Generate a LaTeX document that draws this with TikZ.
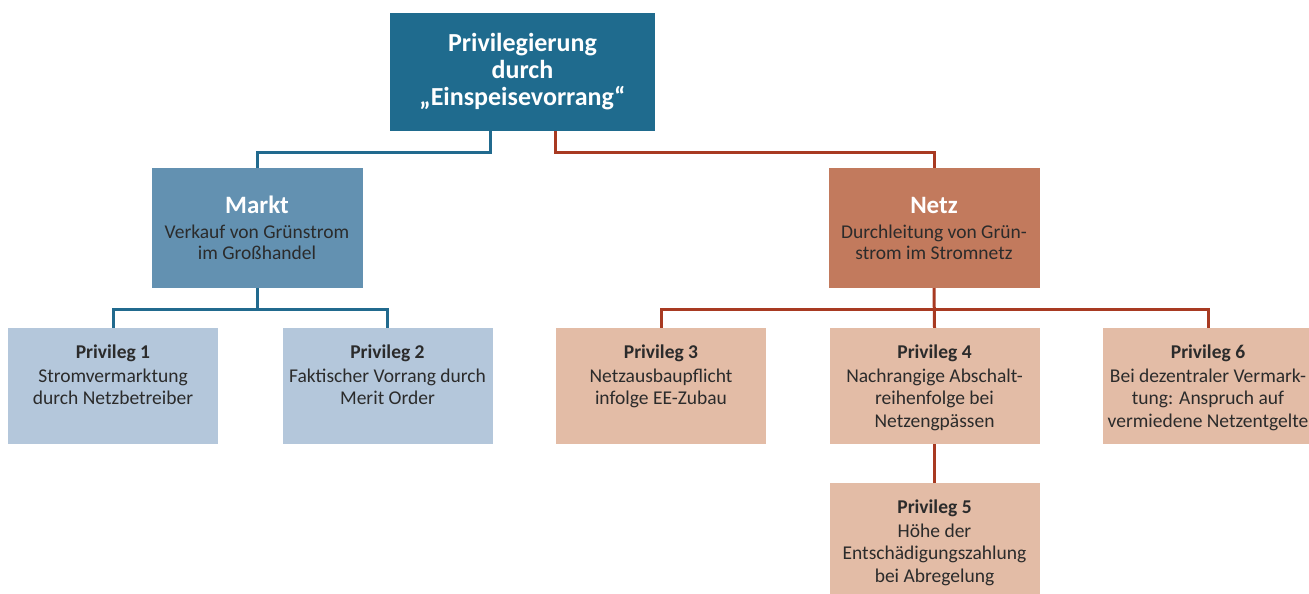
\documentclass[tikz,border=0pt]{standalone}
\usepackage{fontspec}
\setmainfont{Carlito}
\definecolor{topc}{HTML}{1F6B8E}
\definecolor{marktc}{HTML}{6391B1}
\definecolor{netzc}{HTML}{C27A5D}
\definecolor{lblue}{HTML}{B4C7DB}
\definecolor{lsalmon}{HTML}{E3BCA6}
\definecolor{bluel}{HTML}{216A8E}
\definecolor{redl}{HTML}{A83A22}
\definecolor{txt}{HTML}{2B2B2B}
\newcommand{\ptext}[2]{\parbox[c][116pt][t]{205pt}{\centering\vspace*{17pt}\textbf{#1}\\[1pt]#2\par}}
\tikzset{
  topbox/.style={rectangle, fill=topc, text=white, minimum width=265pt, minimum height=118pt, inner sep=0pt, align=center, font=\fontsize{26}{27}\selectfont\bfseries},
  midbox/.style={rectangle, minimum width=211pt, minimum height=120pt, inner sep=0pt, align=center, text=txt, font=\fontsize{19.5}{21}\selectfont},
  privbox/.style={rectangle, minimum width=210pt, minimum height=116pt, inner sep=0pt, text=txt, font=\fontsize{19.5}{22.5}\selectfont},
  bline/.style={draw=bluel, line width=3pt},
  rline/.style={draw=redl, line width=3pt}
}
\begin{document}
\begin{tikzpicture}[x=1pt,y=-1pt]
\useasboundingbox (0,0) rectangle (1309,594);
\fill[white] (0,0) rectangle (1309,594);
\clip (0,0) rectangle (1309,594);
\node[topbox] (top) at (522.5,72) {\raisebox{-3pt}{Privilegierung}\\\raisebox{-3pt}{durch}\\\raisebox{-3pt}{„Einspeisevorrang“}};
\node[midbox, fill=marktc] (markt) at (257,228) {{\fontsize{25}{27}\selectfont\bfseries\color{white}Markt}\\[4pt]Verkauf von Grünstrom\\im Großhandel};
\node[midbox, fill=netzc] (netz) at (934,228) {{\fontsize{25}{27}\selectfont\bfseries\color{white}Netz}\\[4pt]Durchleitung von Grün-\\strom im Stromnetz};
\node[privbox, fill=lblue] (p1) at (113,386) {\ptext{Privileg 1}{Stromvermarktung\\durch Netzbetreiber}};
\node[privbox, fill=lblue] (p2) at (387.5,386) {\ptext{Privileg 2}{Faktischer Vorrang durch\\Merit Order}};
\node[privbox, fill=lsalmon] (p3) at (661,386) {\ptext{Privileg 3}{Netzausbaupflicht\\infolge EE-Zubau}};
\node[privbox, fill=lsalmon] (p4) at (934.5,386) {\ptext{Privileg 4}{Nachrangige Abschalt-\\reihenfolge bei\\Netzengpässen}};
\node[privbox, fill=lsalmon] (p6) at (1208,386) {\ptext{Privileg 6}{Bei dezentraler Vermark-\\tung: Anspruch auf\\vermiedene Netzentgelte}};
\node[privbox, fill=lsalmon] (p5) at (934.5,541) {\ptext{Privileg 5}{Höhe der\\Entschädigungszahlung\\bei Abregelung}};
\draw[bline] ([xshift=-32.5pt]top.south) -- ++(0,21) -| (markt.north);
\draw[rline] ([xshift=32.5pt]top.south) -- ++(0,21) -| (netz.north);
\draw[bline] (markt.south) -- ++(0,21) coordinate (mj);
\draw[bline] (p1.north) |- (mj) -| (p2.north);
\draw[rline] (netz.south) -- (p4.north);
\draw[rline] (p3.north) |- (netz.south |- mj) -| (p6.north);
\draw[rline] (p4.south) -- (p5.north);
\end{tikzpicture}
\end{document}
